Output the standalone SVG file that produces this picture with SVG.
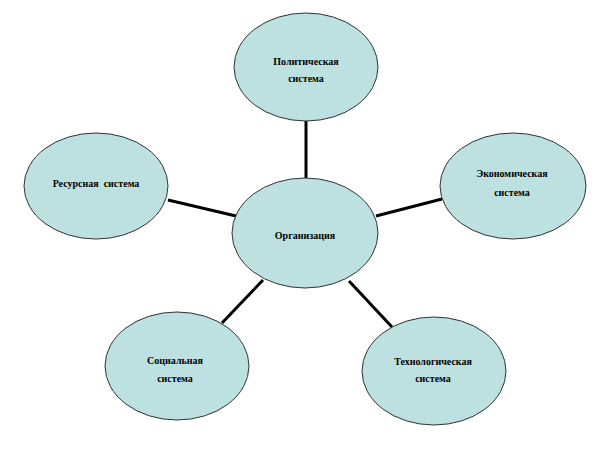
<svg xmlns="http://www.w3.org/2000/svg" width="612" height="468" viewBox="0 0 612 468">
<style>
.node ellipse{fill:#bde0e0;stroke:#333;stroke-width:1}
.node text{font-family:"Liberation Serif","Times New Roman",serif;font-weight:bold;font-size:10px;text-anchor:middle;fill:#000}
.conn line{stroke:#000;stroke-width:3}
</style>
<rect width="612" height="468" fill="#fff"/>
<g id="connectors" class="conn">
<line x1="306" y1="120" x2="306" y2="180"/>
<line x1="168" y1="200" x2="236" y2="216"/>
<line x1="376" y1="216" x2="442" y2="199"/>
<line x1="263" y1="280" x2="222" y2="323"/>
<line x1="349" y1="281" x2="392" y2="327"/>
</g>
<g id="n-politics" class="node">
<ellipse cx="306" cy="67" rx="72" ry="54"/>
<text x="306" y="65">Политическая</text>
<text x="306" y="82">система</text>
</g>
<g id="n-resource" class="node">
<ellipse cx="96" cy="186" rx="72" ry="53"/>
<text x="96" y="187" xml:space="preserve">Ресурсная  система</text>
</g>
<g id="n-economy" class="node">
<ellipse cx="513" cy="186" rx="73" ry="53"/>
<text x="512" y="177">Экономическая</text>
<text x="512" y="196">система</text>
</g>
<g id="n-org" class="node">
<ellipse cx="305" cy="233" rx="73" ry="55"/>
<text x="305" y="239">Организация</text>
</g>
<g id="n-social" class="node">
<ellipse cx="177" cy="366" rx="72" ry="54"/>
<text x="175" y="364">Социальная</text>
<text x="175" y="382">система</text>
</g>
<g id="n-tech" class="node">
<ellipse cx="434" cy="371" rx="72" ry="54"/>
<text x="433" y="365">Технологическая</text>
<text x="433" y="382">система</text>
</g>
</svg>
